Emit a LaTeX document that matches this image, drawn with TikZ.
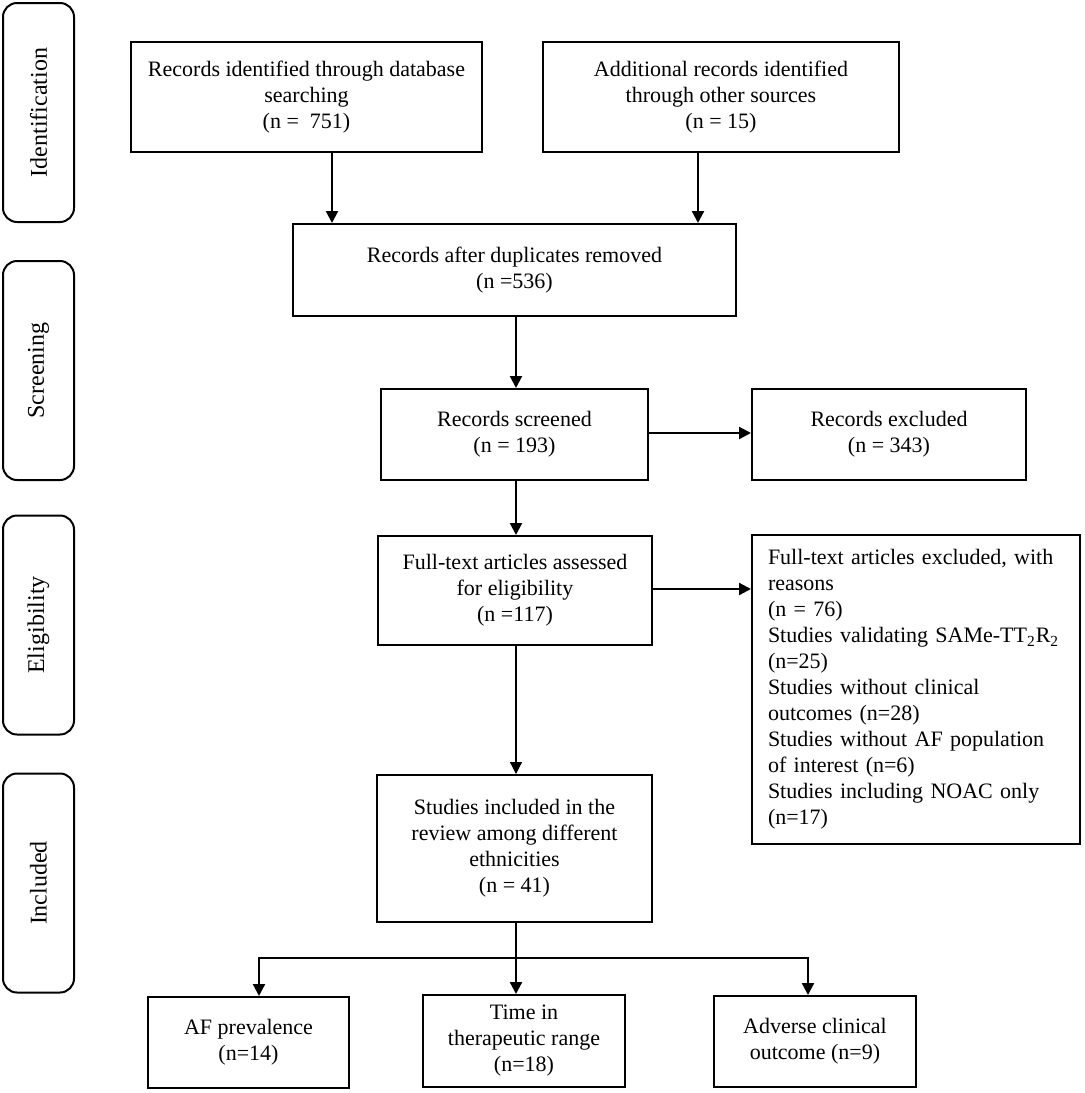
\documentclass[tikz,border=0pt]{standalone}
\usepackage{fontspec}
\setmainfont{Liberation Serif}
\usetikzlibrary{arrows.meta}
\begin{document}
\begin{tikzpicture}[x=0.5pt,y=-0.5pt,
  box/.style={draw,line width=1pt,inner sep=0pt,align=center,font=\fontsize{11}{13}\selectfont},
  side/.style={draw,line width=1pt,rounded corners=7pt,rotate=90,minimum width=109.5pt,minimum height=35.5pt,inner sep=0pt,font=\fontsize{12}{14}\selectfont},
  arr/.style={line width=1.1pt,-{Triangle[length=6pt,width=6pt]}},
  thinarr/.style={line width=0.6pt,-{Triangle[length=6pt,width=6pt]}},
  ln/.style={line width=1.1pt}]
\useasboundingbox (0,0) rectangle (1084,1093);

% side labels
\node[side] (S1) at (38.5,112.5) {Identification};
\node[side] (S2) at (38.5,370.5) {Screening};
\node[side] (S3) at (38.5,625) {Eligibility};
\node[side] (S4) at (38.5,883) {Included};

% boxes
\node[box,minimum width=175.5pt,minimum height=55pt] (B1) at (306.5,97)
  {Records identified through database\\searching\\(n =\ \ 751)};
\node[box,minimum width=178pt,minimum height=55pt] (B2) at (721,97)
  {Additional records identified\\through other sources\\(n = 15)};
\node[box,minimum width=221.5pt,minimum height=46pt] (B3) at (514.5,270)
  {Records after duplicates removed\\(n =536)};
\node[box,minimum width=133.5pt,minimum height=45.5pt] (B4) at (514.5,434.5)
  {Records screened\\(n = 193)};
\node[box,minimum width=137pt,minimum height=45.5pt] (B5) at (889,434.5)
  {Records excluded\\(n = 343)};
\node[box,minimum width=137pt,minimum height=54.5pt] (B6) at (515,590.5)
  {Full-text articles assessed\\for eligibility\\(n =117)};
\node[box,align=left,inner xsep=8pt,text width=148pt,minimum height=154.5pt] (B7) at (916,689.5)
  {Full-text articles excluded, with\\reasons\\(n = 76)\\Studies validating SAMe-TT\textsubscript{2}R\textsubscript{2}\\(n=25)\\Studies without clinical\\outcomes (n=28)\\Studies without AF population\\of interest (n=6)\\Studies including NOAC only\\(n=17)};
\node[box,minimum width=137.5pt,minimum height=73.5pt] (B8) at (514.5,848.5)
  {Studies included in the\\review among different\\ethnicities\\(n = 41)};
\node[box,minimum width=100.5pt,minimum height=45.5pt] (B9) at (248.5,1042.5)
  {AF prevalence\\(n=14)};
\node[box,minimum width=101pt,minimum height=46pt] (B10) at (524,1041)
  {Time in\\therapeutic range\\(n=18)};
\node[box,minimum width=101pt,minimum height=45.5pt] (B11) at (815,1041.5)
  {Adverse clinical\\outcome (n=9)};

% helper coordinates
\coordinate (xa) at (332,0);
\coordinate (xb) at (698,0);
\coordinate (xc) at (516,0);
\coordinate (ya) at (0,433);
\coordinate (yb) at (0,589);
\coordinate (J) at (516,958);
\coordinate (JL) at (259,958);
\coordinate (JR) at (808,958);

% connectors
\draw[arr] (B1.south -| xa) -- (B3.north -| xa);
\draw[arr] (B2.south -| xb) -- (B3.north -| xb);
\draw[arr] (B3.south -| xc) -- (B4.north -| xc);
\draw[arr] (B4.east |- ya) -- (B5.west |- ya);
\draw[arr] (B4.south -| xc) -- (B6.north -| xc);
\draw[arr] (B6.east |- yb) -- (B7.west |- yb);
\draw[thinarr] (B6.south -| xc) -- (B8.north -| xc);
\draw[arr] (B8.south -| J) -- (B10.north -| J);
\draw[arr] (J) -| (B9.north -| JL);
\draw[arr] (J) -| (B11.north -| JR);
\end{tikzpicture}
\end{document}
